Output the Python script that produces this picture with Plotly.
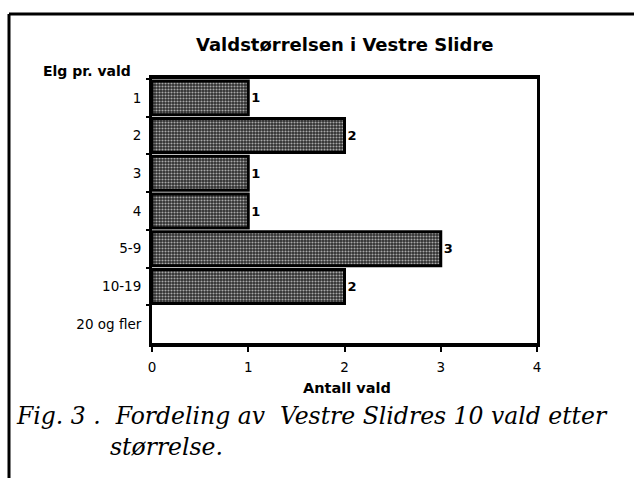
import plotly.graph_objects as go

# Moose per hunting area (category) and number of areas in each class
size_classes = ["1", "2", "3", "4", "5-9", "10-19", "20 og fler"]
area_counts = [1, 2, 1, 1, 3, 2, 0]
x_ticks = [0, 1, 2, 3, 4]

W, H = 634, 478
L, R, T, B = 152, 97, 79, 135
PW, PH = W - L - R, H - T - B

SANS = "DejaVu Sans"
SERIF = "DejaVu Serif"


def px_x(x):
    return (x - L) / PW


def px_y(y):
    return 1 - (y - T) / PH


bar_labels = [f"<b>{v}</b>" if v else "" for v in area_counts]
bar_edges = [3 if v else 0 for v in area_counts]

fig = go.Figure(
    go.Bar(
        x=area_counts,
        y=size_classes,
        orientation="h",
        text=bar_labels,
        textposition="outside",
        cliponaxis=False,
        textfont=dict(family=SANS, size=13, color="black"),
        marker=dict(
            color="#303030",
            line=dict(color="black", width=bar_edges),
            pattern=dict(shape=".", fgcolor="#a8a8a8", bgcolor="#2e2e2e",
                         size=3, solidity=0.4, fillmode="replace"),
        ),
        width=0.9,
        hoverinfo="skip",
    )
)

ink = "black"
fig.update_layout(
    width=W,
    height=H,
    margin=dict(l=L, r=R, t=T, b=B),
    paper_bgcolor="white",
    plot_bgcolor="white",
    showlegend=False,
    font=dict(family=SANS, size=13.5, color=ink),
    xaxis=dict(
        range=[0, 4],
        tickvals=x_ticks,
        ticktext=[str(v) for v in x_ticks],
        showgrid=False,
        zeroline=False,
        showline=True,
        linecolor=ink,
        linewidth=3.5,
        mirror=True,
        ticks="outside",
        ticklen=5,
        tickwidth=2,
        tickcolor=ink,
        ticklabelstandoff=4,
        tickfont=dict(family=SANS, size=13.5, color=ink),
    ),
    yaxis=dict(
        categoryorder="array",
        categoryarray=size_classes,
        autorange="reversed",
        showgrid=False,
        zeroline=False,
        showline=True,
        linecolor=ink,
        linewidth=3,
        mirror=True,
        ticks="outside",
        tickson="boundaries",
        ticklen=3,
        tickwidth=2,
        tickcolor=ink,
        ticklabelstandoff=5,
        tickfont=dict(family=SANS, size=13.5, color=ink),
    ),
    shapes=[
        # outer frame: top and left rules
        dict(type="line", xref="paper", yref="paper",
             x0=px_x(9), x1=px_x(634), y0=px_y(14), y1=px_y(14),
             line=dict(color=ink, width=3)),
        dict(type="line", xref="paper", yref="paper",
             x0=px_x(9), x1=px_x(9), y0=px_y(14), y1=px_y(478),
             line=dict(color=ink, width=3)),
    ],
    annotations=[
        dict(text="<b>Valdstørrelsen i Vestre Slidre</b>", xref="paper", yref="paper",
             x=px_x(345), y=px_y(45), xanchor="center", yanchor="middle",
             showarrow=False, font=dict(family=SANS, size=18, color=ink)),
        dict(text="<b>Elg pr. vald</b>", xref="paper", yref="paper",
             x=px_x(133), y=px_y(71), xanchor="right", yanchor="middle",
             showarrow=False, font=dict(family=SANS, size=14, color=ink)),
        dict(text="<b>Antall vald</b>", xref="paper", yref="paper",
             x=px_x(347), y=px_y(388), xanchor="center", yanchor="middle",
             showarrow=False, font=dict(family=SANS, size=14.5, color=ink)),
        dict(text="<i>Fig. 3 .  Fordeling av  Vestre Slidres 10 vald etter</i>",
             xref="paper", yref="paper",
             x=px_x(14), y=px_y(416), xanchor="left", yanchor="middle",
             showarrow=False, font=dict(family=SERIF, size=23.5, color=ink)),
        dict(text="<i>størrelse.</i>", xref="paper", yref="paper",
             x=px_x(108), y=px_y(447), xanchor="left", yanchor="middle",
             showarrow=False, font=dict(family=SERIF, size=23.5, color=ink)),
    ],
)

fig.write_html("out.html")
